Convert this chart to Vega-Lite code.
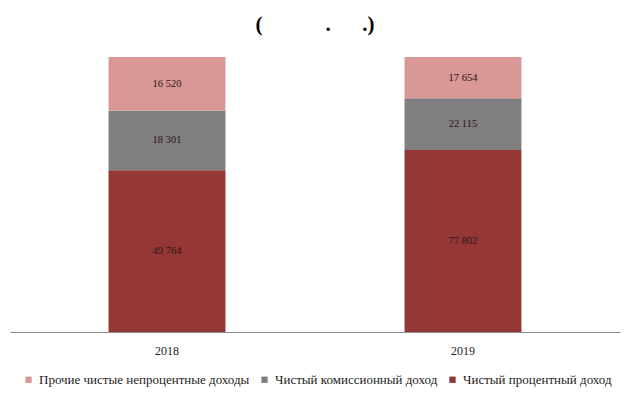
{
  "$schema": "https://vega.github.io/schema/vega-lite/v6.json",
  "width": 610,
  "height": 275,
  "autosize": {"type": "none"},
  "padding": {"left": 10, "top": 57, "right": 16, "bottom": 71},
  "background": "white",
  "title": {
    "text": "(\u00a0\u00a0\u00a0\u00a0\u00a0\u00a0\u00a0\u00a0\u00a0\u00a0\u00a0\u00a0.\u00a0\u00a0\u00a0\u00a0\u00a0\u00a0.)",
    "font": "Liberation Serif",
    "fontSize": 21,
    "fontWeight": "bold",
    "color": "#000000",
    "anchor": "middle",
    "offset": 22
  },
  "config": {
    "view": {"stroke": null},
    "locale": {"number": {"decimal": ",", "thousands": " ", "grouping": [3], "currency": ["", ""]}}
  },
  "data": {
    "values": [
      {"year": "2018", "type": "Чистый процентный доход", "order": 1, "value": 49764},
      {"year": "2018", "type": "Чистый комиссионный доход", "order": 2, "value": 18301},
      {"year": "2018", "type": "Прочие чистые непроцентные доходы", "order": 3, "value": 16520},
      {"year": "2019", "type": "Чистый процентный доход", "order": 1, "value": 77802},
      {"year": "2019", "type": "Чистый комиссионный доход", "order": 2, "value": 22115},
      {"year": "2019", "type": "Прочие чистые непроцентные доходы", "order": 3, "value": 17654}
    ]
  },
  "encoding": {
    "x": {
      "field": "year",
      "type": "nominal",
      "scale": {"paddingInner": 0.605, "paddingOuter": 0.333},
      "axis": {
        "title": null,
        "labelAngle": 0,
        "ticks": false,
        "domainColor": "#8c8c8c",
        "labelFont": "Liberation Serif",
        "labelFontSize": 12,
        "labelColor": "#222222",
        "labelPadding": 13
      }
    }
  },
  "layer": [
    {
      "mark": {"type": "bar"},
      "encoding": {
        "y": {"field": "value", "type": "quantitative", "stack": "normalize", "scale": {"domain": [0, 1]}, "axis": null},
        "order": {"field": "order", "type": "quantitative"},
        "color": {
          "field": "type",
          "type": "nominal",
          "scale": {
            "domain": ["Прочие чистые непроцентные доходы", "Чистый комиссионный доход", "Чистый процентный доход"],
            "range": ["#d99795", "#7f7f7f", "#953735"]
          },
          "legend": {
            "title": null,
            "orient": "none",
            "legendX": 12,
            "legendY": 316,
            "direction": "horizontal",
            "symbolType": "square",
            "symbolSize": 40,
            "symbolStrokeWidth": 0,
            "labelFont": "Liberation Serif",
            "labelFontSize": 13,
            "labelColor": "#222222",
            "columnPadding": 8,
            "labelLimit": 400
          }
        }
      }
    },
    {
      "transform": [
        {"stack": "value", "groupby": ["year"], "sort": [{"field": "order", "order": "ascending"}], "as": ["v0", "v1"], "offset": "normalize"},
        {"fold": ["v0", "v1"], "as": ["k", "pos"]},
        {"aggregate": [{"op": "mean", "field": "pos", "as": "mid"}, {"op": "max", "field": "value", "as": "val"}], "groupby": ["year", "type"]}
      ],
      "mark": {"type": "text", "font": "Liberation Serif", "fontSize": 10.5, "color": "#2a1515", "baseline": "middle"},
      "encoding": {
        "y": {"field": "mid", "type": "quantitative", "scale": {"domain": [0, 1]}},
        "text": {"field": "val", "type": "quantitative", "format": ",d"}
      }
    }
  ]
}
